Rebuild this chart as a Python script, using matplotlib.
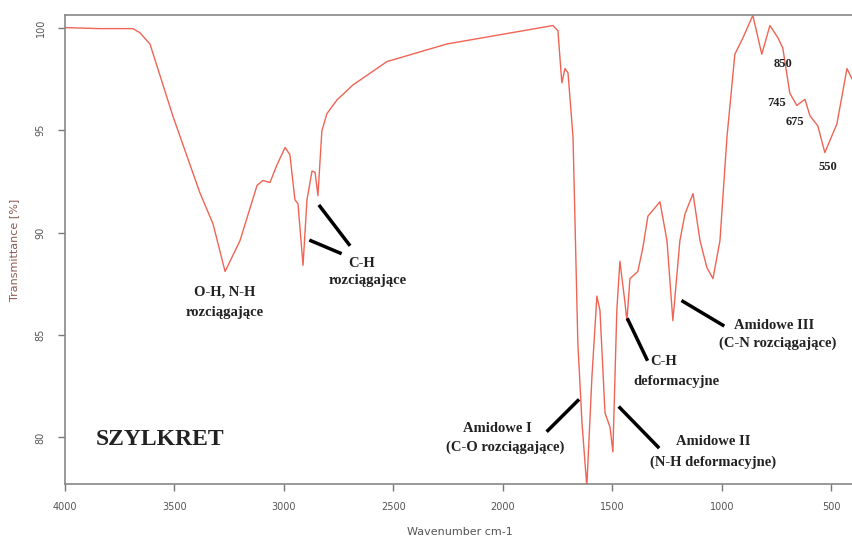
import matplotlib
matplotlib.use("Agg")
import matplotlib.pyplot as plt

# FTIR spectrum
wavenumber = [4000, 3840, 3690, 3658, 3612, 3507, 3384, 3324, 3269, 3201, 3123, 3096, 3064,
              3032, 2995, 2973, 2950, 2936, 2913, 2895, 2872, 2858, 2845, 2827, 2804, 2758,
              2685, 2530, 2256, 1772, 1749, 1731, 1717, 1703, 1680, 1658, 1639, 1617, 1594,
              1571, 1557, 1534, 1511, 1498, 1480, 1466, 1443, 1434, 1420, 1384, 1361, 1338,
              1283, 1251, 1224, 1192, 1169, 1132, 1100, 1069, 1041, 1009, 977, 941, 904,
              859, 818, 781, 744, 722, 690, 658, 621, 598, 562, 530, 475, 429, 406]
transmittance = [100.0, 99.95, 99.95, 99.75, 99.2, 95.67, 91.94, 90.42, 88.1, 89.6, 92.3, 92.54,
                 92.44, 93.3, 94.15, 93.8, 91.6, 91.4, 88.4, 91.6, 93.0, 92.94, 91.8, 94.96,
                 95.8, 96.47, 97.2, 98.34, 99.2, 100.1, 99.85, 97.3, 98.0, 97.8, 94.66, 84.6,
                 80.7, 77.6, 82.9, 86.9, 86.2, 81.2, 80.5, 79.3, 86.2, 88.6, 86.6, 85.7, 87.75,
                 88.1, 89.26, 90.8, 91.5, 89.6, 85.7, 89.6, 90.9, 91.9, 89.6, 88.3, 87.75,
                 89.6, 94.66, 98.7, 99.5, 100.6, 98.7, 100.1, 99.5, 99.0, 96.8, 96.2, 96.5,
                 95.7, 95.2, 93.9, 95.3, 98.0, 97.5]

x_ticks = [4000, 3500, 3000, 2500, 2000, 1500, 1000, 500]
y_ticks = [80, 85, 90, 95, 100]

fig = plt.figure(figsize=(8.52, 5.4), dpi=100)
ax = fig.add_axes([0.0763, 0.1037, 0.9237, 0.8676])
ax.plot(wavenumber, transmittance, color="#ef6454", lw=1.0)
ax.set_xlim(4000, 406)
ax.set_ylim(77.73, 100.59)

ax.set_xticks(x_ticks)
ax.set_yticks(y_ticks)
ax.tick_params(direction="out", length=5, width=1, colors="#777777", labelsize=7,
               labelcolor="#555555")
ax.tick_params(axis="x", pad=8)
ax.tick_params(axis="y", pad=9)
for lab in ax.get_yticklabels():
    lab.set_rotation(90)
    lab.set_va("center")
for s in ["left", "bottom", "top"]:
    ax.spines[s].set_color("#888888")
    ax.spines[s].set_linewidth(1.2)
ax.spines["right"].set_visible(False)

ax.set_xlabel("Wavenumber cm-1", fontsize=8, color="#555555")
ax.set_ylabel("Transmittance [%]", fontsize=8, color="#8a5a52")
ax.xaxis.set_label_coords(0.502, -0.092)
ax.yaxis.set_label_coords(-0.058, 0.5)

serif = dict(family="Liberation Serif", weight="bold", color="#222222", ha="center",
             va="center", fontsize=10.5)

ax.text(3566, 79.9, "SZYLKRET", family="Liberation Serif", weight="bold", fontsize=17,
        color="#222222", ha="center", va="center")

ax.text(3269, 87.1, "O-H, N-H", **serif)
ax.text(3269, 86.1, "rozciągające", **serif)

ax.text(2644, 88.5, "C-H", **serif)
ax.text(2617, 87.65, "rozciągające", **serif)
ax.plot([2836, 2703], [91.28, 89.42], color="black", lw=2.5)
ax.plot([2877, 2744], [89.6, 89.0], color="black", lw=2.5)

ax.text(2027, 80.44, "Amidowe I", **serif)
ax.text(1991, 79.54, "(C-O rozciągające)", **serif)
ax.plot([1795, 1658], [80.34, 81.8], color="black", lw=2.5)

ax.text(1040, 79.79, "Amidowe II", **serif)
ax.text(1040, 78.78, "(N-H deformacyjne)", **serif)
ax.plot([1466, 1292], [81.45, 79.54], color="black", lw=2.5)

ax.text(1265, 83.72, "C-H", **serif)
ax.text(1210, 82.71, "deformacyjne", **serif)
ax.plot([1429, 1343], [85.74, 83.82], color="black", lw=2.5)

ax.text(760, 85.48, "Amidowe III", **serif)
ax.text(745, 84.58, "(C-N rozciągające)", **serif)
ax.plot([1178, 996], [86.64, 85.48], color="black", lw=2.5)

small = dict(family="Liberation Serif", weight="bold", color="#222222", ha="center",
             va="center", fontsize=9)
ax.text(722, 98.2, "850", **small)
ax.text(749, 96.3, "745", **small)
ax.text(667, 95.4, "675", **small)
ax.text(516, 93.2, "550", **small)

fig.savefig("out.png", dpi=100)
